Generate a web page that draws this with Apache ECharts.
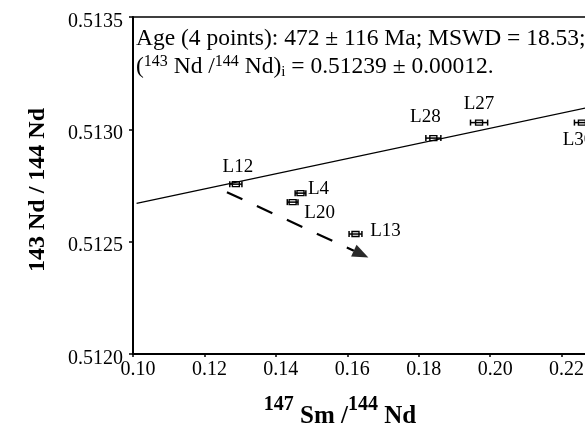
<!DOCTYPE html>
<html><head><meta charset="utf-8">
<script src="https://cdn.jsdelivr.net/npm/echarts@6/dist/echarts.min.js"></script>
<style>html,body{margin:0;padding:0;background:#fff}#c{width:585px;height:426px}</style>
</head><body><div id="c"></div>
<script>
// ---- data ----
const sampleNames = ['L12', 'L4', 'L20', 'L13', 'L28', 'L27', 'L30'];
const smNd = [0.1288, 0.1469, 0.1447, 0.1623, 0.1841, 0.1969, 0.2257];
const ndNd = [0.512756, 0.512716, 0.512676, 0.512534, 0.512961, 0.51303, 0.51303];
const smNdErr = [0.0017, 0.0015, 0.0015, 0.0018, 0.0021, 0.0024, 0.0021];
const isochronX = [0.101, 0.24];
const isochronY = [0.51267, 0.51314];
const arrowX = [0.1263, 0.1659];
const arrowY = [0.51272, 0.51243];
const xTickLabels = ['0.10', '0.12', '0.14', '0.16', '0.18', '0.20', '0.22', '0.24'];
const yTickLabels = ['0.5120', '0.5125', '0.5130', '0.5135'];
const ageLine = 'Age (4 points): 472 ± 116 Ma; MSWD = 18.53;';
const initialRatio = '0.51239 ± 0.00012.';

// ---- layout (label offsets in px from the point) ----
const labelPlace = {
  L12: [2, -17], L4: [18, -4], L20: [27, 11], L13: [30, -3],
  L28: [-8, -21], L27: [0, -19], L30: [-4, 17]
};
const SERIF = '"Liberation Serif", "Times New Roman", serif';

const chart = echarts.init(document.getElementById('c'), null, {renderer: 'canvas'});

function renderErr(params, api) {
  const x = api.value(0), y = api.value(1), e = api.value(2);
  const c = api.coord([x, y]);
  const l = api.coord([x - e, y]);
  const r = api.coord([x + e, y]);
  const name = sampleNames[params.dataIndex];
  const lp = labelPlace[name];
  const st = {stroke: '#000', lineWidth: 1.5, fill: null};
  return {type: 'group', children: [
    {type: 'line', shape: {x1: l[0], y1: c[1], x2: r[0], y2: c[1]}, style: st},
    {type: 'line', shape: {x1: l[0], y1: c[1] - 3, x2: l[0], y2: c[1] + 3}, style: st},
    {type: 'line', shape: {x1: r[0], y1: c[1] - 3, x2: r[0], y2: c[1] + 3}, style: st},
    {type: 'rect', shape: {x: c[0] - 3.5, y: c[1] - 2.5, width: 7, height: 5}, style: {stroke: '#000', lineWidth: 1.4, fill: 'none'}},
    {type: 'text', x: c[0] + lp[0], y: c[1] + lp[1], style: {text: name, font: '19px ' + SERIF, fill: '#000', align: 'center', verticalAlign: 'middle'}}
  ]};
}

function renderArrow(params, api) {
  const p0 = api.coord([arrowX[0], arrowY[0]]);
  const p1 = api.coord([arrowX[1], arrowY[1]]);
  const dx = p1[0] - p0[0], dy = p1[1] - p0[1];
  const L = Math.hypot(dx, dy), ux = dx / L, uy = dy / L;
  const headLen = 16, headHalf = 6.5;
  const bx = p1[0] - ux * headLen, by = p1[1] - uy * headLen;
  return {type: 'group', children: [
    {type: 'line', shape: {x1: p0[0], y1: p0[1], x2: bx, y2: by}, style: {stroke: '#000', lineWidth: 2.2, lineDash: [17, 16]}},
    {type: 'polygon', shape: {points: [[p1[0], p1[1]], [bx - uy * headHalf, by + ux * headHalf], [bx + uy * headHalf, by - ux * headHalf]]}, style: {fill: '#2a2a2a'}}
  ]};
}

const option = {
  backgroundColor: '#fff',
  animation: false,
  grid: {left: 133, top: 17, width: 500, height: 337, show: true, borderColor: '#000', borderWidth: 1.5,
    backgroundColor: 'transparent', containLabel: false, outerBoundsMode: 'none'},
  xAxis: {
    type: 'value', min: 0.10, max: 0.24, interval: 0.02,
    axisLine: {show: true, onZero: false, lineStyle: {color: '#000', width: 2}},
    axisTick: {show: true, inside: false, length: 3, lineStyle: {color: '#000', width: 1.5}},
    axisLabel: {margin: 6, color: '#000', fontFamily: SERIF, fontSize: 20, padding: [0, 0, 0, 10], hideOverlap: false,
      formatter: v => xTickLabels[Math.round((v - 0.10) / 0.02)]},
    splitLine: {show: false}
  },
  yAxis: {
    type: 'value', min: 0.5120, max: 0.5135, interval: 0.0005,
    axisLine: {show: true, onZero: false, lineStyle: {color: '#000', width: 2}},
    axisTick: {show: true, inside: false, length: 4, lineStyle: {color: '#000', width: 1.5}},
    axisLabel: {margin: 10, color: '#000', fontFamily: SERIF, fontSize: 20, hideOverlap: false,
      formatter: v => '{v|' + yTickLabels[Math.round((v - 0.5120) / 0.0005)] + '}',
      rich: {v: {fontFamily: SERIF, fontSize: 20, color: '#000', padding: [9, 0, 0, 0]}}},
    splitLine: {show: false}
  },
  series: [
    {type: 'line', data: isochronX.map((x, i) => [x, isochronY[i]]), showSymbol: false, symbol: 'none',
      lineStyle: {color: '#000', width: 1.3}, silent: true, z: 2},
    {type: 'custom', renderItem: renderArrow, data: [[arrowX[1], arrowY[1]]], z: 3, silent: true},
    {type: 'custom', renderItem: renderErr, data: smNd.map((x, i) => [x, ndNd[i], smNdErr[i]]), z: 4, silent: true}
  ],
  graphic: [
    {type: 'text', x: 136, y: 39, style: {text: ageLine, font: '23.5px ' + SERIF, fill: '#000', align: 'left', verticalAlign: 'middle'}},
    {type: 'text', x: 136, y: 67, style: {
      text: '{n|(}{sup|143}{n| Nd /}{sup|144}{n| Nd)}{sub|i}{n| = ' + initialRatio + '}',
      align: 'left', verticalAlign: 'middle', fill: '#000',
      rich: {
        n: {font: '23.5px ' + SERIF, lineHeight: 26, verticalAlign: 'middle', fill: '#000'},
        sup: {font: '16px ' + SERIF, lineHeight: 16, verticalAlign: 'top', fill: '#000'},
        sub: {font: '15px ' + SERIF, lineHeight: 15, verticalAlign: 'bottom', fill: '#000'}
      }}},
    {type: 'text', x: 340, y: 412, style: {
      text: '{sup|147}{m| Sm /}{sup|144}{m| Nd}',
      align: 'center', verticalAlign: 'middle', fill: '#000',
      rich: {
        m: {font: 'bold 25px ' + SERIF, lineHeight: 34, verticalAlign: 'bottom', fill: '#000'},
        sup: {font: 'bold 20px ' + SERIF, lineHeight: 20, verticalAlign: 'top', fill: '#000'}
      }}},
    {type: 'text', x: 38, y: 190, rotation: Math.PI / 2, style: {
      text: '143 Nd / 144 Nd', font: 'bold 24px ' + SERIF, fill: '#000', align: 'center', verticalAlign: 'middle'}}
  ]
};
chart.setOption(option);
</script>
</body></html>
